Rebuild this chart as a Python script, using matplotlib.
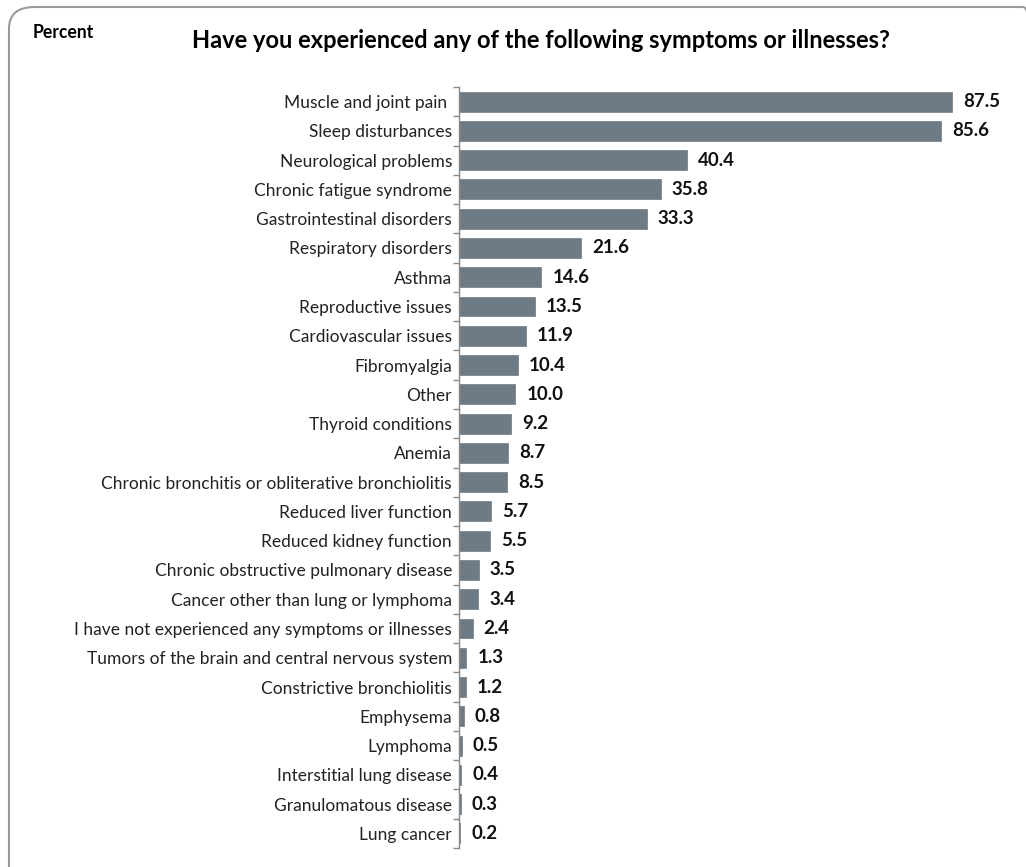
import matplotlib.pyplot as plt
from matplotlib.patches import FancyBboxPatch

categories = [
    "Muscle and joint pain ", "Sleep disturbances", "Neurological problems",
    "Chronic fatigue syndrome", "Gastrointestinal disorders", "Respiratory disorders",
    "Asthma", "Reproductive issues", "Cardiovascular issues", "Fibromyalgia", "Other",
    "Thyroid conditions", "Anemia", "Chronic bronchitis or obliterative bronchiolitis",
    "Reduced liver function", "Reduced kidney function",
    "Chronic obstructive pulmonary disease", "Cancer other than lung or lymphoma",
    "I have not experienced any symptoms or illnesses",
    "Tumors of the brain and central nervous system", "Constrictive bronchiolitis",
    "Emphysema", "Lymphoma", "Interstitial lung disease", "Granulomatous disease",
    "Lung cancer",
]
values = [87.5, 85.6, 40.4, 35.8, 33.3, 21.6, 14.6, 13.5, 11.9, 10.4, 10.0, 9.2, 8.7,
          8.5, 5.7, 5.5, 3.5, 3.4, 2.4, 1.3, 1.2, 0.8, 0.5, 0.4, 0.3, 0.2]

W, H = 1026, 867
fig = plt.figure(figsize=(W / 100, H / 100), dpi=100)
plt.rcParams['font.family'] = ['Lato', 'DejaVu Sans']

# rounded frame, runs off the right and bottom edges
frame = FancyBboxPatch((9 / W, -30 / H), 1040 / W, (H - 7 + 30) / H,
                       boxstyle="round,pad=0,rounding_size=0.025",
                       transform=fig.transFigure, fill=False,
                       edgecolor="#9a9a9a", linewidth=1.5)
fig.patches.append(frame)

x0, x1 = 459, 1022.4
y_top, y_bot = 87, 848
ax = fig.add_axes([x0 / W, 1 - y_bot / H, (x1 - x0) / W, (y_bot - y_top) / H])

n = len(categories)
pos = list(range(n))
ax.barh(pos, values, height=0.68, color="#6e7b85", edgecolor="#6e7b85", linewidth=0.5)
ax.set_ylim(n - 0.5, -0.5)
ax.set_xlim(0, 100)

for p, v in zip(pos, values):
    ax.annotate(f"{v:.1f}", (v, p), xytext=(8, 0), textcoords="offset points",
                va="center", ha="left", fontsize=13.5, fontweight="bold", color="#111111")

ax.set_yticks(pos)
ax.set_yticklabels(categories, fontsize=12.5, color="#222222")
ax.set_yticks([i - 0.5 for i in range(n + 1)], minor=True)
ax.tick_params(axis="y", which="major", length=0, pad=5)
ax.tick_params(axis="y", which="minor", length=4, color="#888888", width=1)
ax.set_xticks([])
for s in ["top", "right", "bottom"]:
    ax.spines[s].set_visible(False)
ax.spines["left"].set_color("#888888")
ax.spines["left"].set_linewidth(1)

fig.text(33 / W, 1 - 32 / H, "Percent", fontsize=12.7, fontweight="bold",
         va="center", ha="left")
fig.text(541 / W, 1 - 40 / H,
         "Have you experienced any of the following symptoms or illnesses?",
         fontsize=17, fontweight="bold", va="center", ha="center")

fig.savefig("out.png", dpi=100)
